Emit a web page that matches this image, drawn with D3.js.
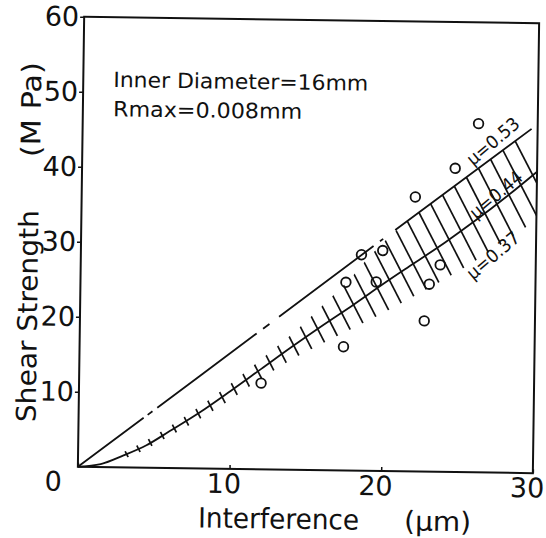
<!DOCTYPE html>
<html>
    <head>
        <meta charset="utf-8">
        <script src="https://d3js.org/d3.v7.min.js"></script>
        <style>
            body { margin: 0; background: #fff; }
            svg text { font-family: "DejaVu Sans", sans-serif; fill: #111; }
        </style>
    </head>
    <body>
        <script>

            // measured points: interference (um) / shear strength (MPa)
            var pointsX = [12.0, 17.4, 17.5, 18.5, 19.5, 19.9, 22.0, 22.7, 23.0, 23.7, 24.6, 26.1];
            var pointsY = [11.5, 16.5, 25.1, 28.8, 25.2, 29.4, 36.6, 20.1, 25.0, 27.6, 40.5, 46.5];

            // mu = 0.53 line
            var muHighX = [0, 8, 19.3, 29.6];
            var muHighY = [0, 12.4, 30.0, 45.9];

            // mu = 0.44 curve
            var muMidX = [0, 1.5, 3, 4.5, 6, 8, 10, 12, 14, 16, 18, 20, 22, 24, 26, 28, 30];
            var muMidY = [0, 0.4, 1.6, 3.0, 4.9, 7.5, 10.4, 13.4, 16.4, 19.3, 22.1, 25.0, 27.8, 30.6, 33.6, 36.8, 40.2];

            // hatched band, upper edge and lower edge (mu = 0.37)
            var bandX   = [0, 3, 6, 9, 12, 14, 16, 18, 19, 20, 21, 24, 27, 30];
            var bandTop = [0, 2.05, 5.55, 9.8, 14.7, 18.1, 22.0, 26.1, 28.5, 30.6, 32.55, 37.2, 41.85, 46.5];
            var bandLow = [0, 1.15, 4.25, 7.9, 12.1, 14.7, 16.9, 19.0, 20.05, 21.1, 22.25, 25.7, 29.5, 33.8];

            // ticks
            var xTicks = [0, 10, 20, 30];
            var yTicks = [10, 20, 30, 40, 50, 60];

            // labels on the band
            var muLabels = ["\u03bc=0.53", "\u03bc=0.44", "\u03bc=0.37"];
            var muLabelX = [27.06, 27.31, 27.17];
            var muLabelY = [44.2, 37.1, 29.0];

            // plot box
            var boxLeft = 81, boxRight = 536, boxTop = 20, boxBottom = 470;

            var x = d3.scaleLinear().domain([0, 30]).range([boxLeft, boxRight]);
            var y = d3.scaleLinear().domain([0, 60]).range([boxBottom, boxTop]);

            var svg = d3.select("body").append("svg")
                .attr("width", 546)
                .attr("height", 538);

            // the scanned page is turned a little
            var g = svg.append("g")
                .attr("transform", "rotate(0.8,308,245)");

            // hatching, clipped to the band
            var band = bandX.map(function(d, i) { return [d, bandTop[i], bandLow[i]]; });
            var bandArea = d3.area()
                .x(function(d) { return x(d[0]); })
                .y0(function(d) { return y(d[2]); })
                .y1(function(d) { return y(d[1]); })
                .curve(d3.curveMonotoneX);

            g.append("clipPath")
                .attr("id", "band")
                .append("path")
                .attr("d", bandArea(band));

            var midAt = d3.scaleLinear().domain(muMidX).range(muMidY);
            var hatchX = d3.range(3.2, 30, 0.78);
            var ang = 62 * Math.PI / 180, hx = Math.cos(ang), hy = Math.sin(ang);

            g.append("g")
                .attr("clip-path", "url(#band)")
                .selectAll("line")
                .data(hatchX)
                .enter()
                .append("line")
                .attr("x1", function(d) { return x(d) - 70 * hx; })
                .attr("y1", function(d) { return y(midAt(d)) - 70 * hy; })
                .attr("x2", function(d) { return x(d) + 70 * hx; })
                .attr("y2", function(d) { return y(midAt(d)) + 70 * hy; })
                .attr("stroke", "#111")
                .attr("stroke-width", 1.7);

            var line = d3.line()
                .x(function(d) { return x(d[0]); })
                .y(function(d) { return y(d[1]); });

            // mu = 0.44
            g.append("path")
                .attr("d", line.curve(d3.curveCatmullRom)(muMidX.map(function(d, i) { return [d, muMidY[i]]; })))
                .attr("fill", "none")
                .attr("stroke", "#111")
                .attr("stroke-width", 1.8);

            // mu = 0.53, broken line
            g.append("path")
                .attr("d", line.curve(d3.curveLinear)(muHighX.map(function(d, i) { return [d, muHighY[i]]; })))
                .attr("fill", "none")
                .attr("stroke", "#111")
                .attr("stroke-width", 1.8)
                .attr("stroke-dasharray", "82 5 6 6 124 8 8 12 118 8 4 15 400");

            // frame
            g.append("rect")
                .attr("x", boxLeft)
                .attr("y", boxTop)
                .attr("width", boxRight - boxLeft)
                .attr("height", boxBottom - boxTop)
                .attr("fill", "none")
                .attr("stroke", "#111")
                .attr("stroke-width", 2);

            // axes
            var yAxis = d3.axisLeft(y).tickValues(yTicks).tickSizeInner(4).tickSizeOuter(0).tickPadding(1);
            var ya = g.append("g")
                .attr("transform", "translate(" + boxLeft + ",0)")
                .call(yAxis);
            ya.select(".domain").remove();
            ya.selectAll("line").attr("stroke", "#111").attr("stroke-width", 1.5);
            ya.selectAll("text").attr("font-size", 27).attr("fill", "#111");
            ya.attr("font-size", null).attr("font-family", null);

            var xAxis = d3.axisBottom(x).tickValues(xTicks).tickSizeInner(-4).tickSizeOuter(0).tickPadding(5);
            var xa = g.append("g")
                .attr("transform", "translate(0," + boxBottom + ")")
                .call(xAxis);
            xa.select(".domain").remove();
            xa.selectAll("line").attr("stroke", "#111").attr("stroke-width", 1.5);
            xa.selectAll("text")
                .attr("font-size", 27)
                .attr("fill", "#111")
                .attr("dx", function(d) { return d === 0 ? -25 : -6; });
            xa.attr("font-size", null).attr("font-family", null);

            // points
            g.selectAll("circle")
                .data(pointsX)
                .enter()
                .append("circle")
                .attr("cx", function(d) { return x(d); })
                .attr("cy", function(d, i) { return y(pointsY[i]); })
                .attr("r", 4.8)
                .attr("fill", "none")
                .attr("stroke", "#111")
                .attr("stroke-width", 1.8);

            // labels on the band
            g.selectAll(".mu")
                .data(muLabels)
                .enter()
                .append("text")
                .attr("class", "mu")
                .attr("transform", function(d, i) {
                    return "translate(" + x(muLabelX[i]) + "," + y(muLabelY[i]) + ") rotate(-41)";
                })
                .attr("text-anchor", "middle")
                .attr("dominant-baseline", "central")
                .attr("font-size", 18)
                .attr("textLength", 63)
                .attr("lengthAdjust", "spacingAndGlyphs")
                .text(function(d) { return d; });

            // note
            g.append("text")
                .attr("x", x(1.98))
                .attr("y", y(50.7))
                .attr("font-size", 21)
                .attr("textLength", 255)
                .attr("lengthAdjust", "spacingAndGlyphs")
                .text("Inner Diameter=16mm");

            g.append("text")
                .attr("x", x(2.0))
                .attr("y", y(46.8))
                .attr("font-size", 21)
                .attr("textLength", 189)
                .attr("lengthAdjust", "spacingAndGlyphs")
                .text("Rmax=0.008mm");

            // axis titles
            g.append("text")
                .attr("x", 202)
                .attr("y", 529)
                .attr("font-size", 28)
                .attr("textLength", 161)
                .attr("lengthAdjust", "spacingAndGlyphs")
                .text("Interference");

            g.append("text")
                .attr("x", 408)
                .attr("y", 529)
                .attr("font-size", 27)
                .attr("textLength", 67)
                .attr("lengthAdjust", "spacingAndGlyphs")
                .text("(\u00b5m)");

            g.append("text")
                .attr("transform", "translate(38,426) rotate(-90)")
                .attr("font-size", 27)
                .attr("textLength", 212)
                .attr("lengthAdjust", "spacingAndGlyphs")
                .text("Shear Strength");

            g.append("text")
                .attr("transform", "translate(39,161) rotate(-90)")
                .attr("font-size", 27)
                .attr("textLength", 95)
                .attr("lengthAdjust", "spacingAndGlyphs")
                .text("(M Pa)");

        </script>
    </body>
</html>
